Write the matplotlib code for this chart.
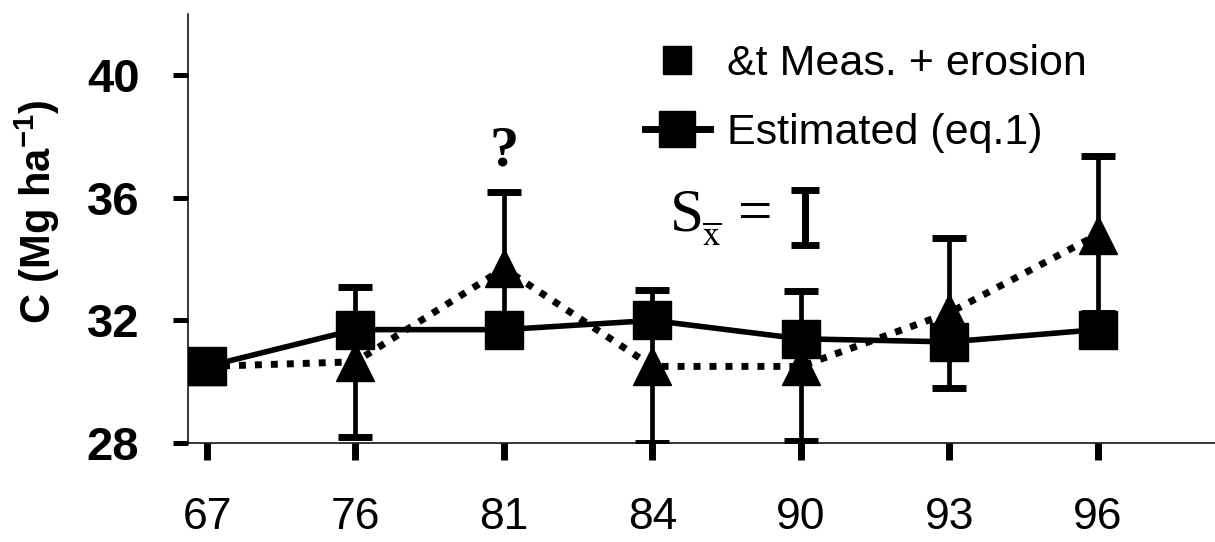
import numpy as np
import matplotlib
matplotlib.use('Agg')
import matplotlib.pyplot as plt
from matplotlib import font_manager
from matplotlib.lines import Line2D

# =========================================================
# DATA
# =========================================================

years = ['67', '76', '81', '84', '90', '93', '96']

# soil C stock (Mg ha-1)
c_estimated = [30.5, 31.7, 31.7, 32.0, 31.4, 31.3, 31.7]
c_measured = [30.5, 30.65, 33.7, 30.5, 30.5, 32.25, 34.8]
c_measured_se = [0.0, 2.45, 2.5, 2.5, 2.45, 2.45, 2.55]

# size of the reference S.E. bar next to the label
se_example = 0.9

y_ticks = [28, 32, 36, 40]

legend_labels = ['&t Meas. + erosion', 'Estimated (eq.1)']

# =========================================================
# FONTS
# =========================================================

installed = {f.name for f in font_manager.fontManager.ttflist}
NARROW = 'Liberation Sans Narrow' if 'Liberation Sans Narrow' in installed else 'Liberation Sans'
SANS = 'Liberation Sans'
SERIF = 'Liberation Serif'

plt.rcParams['mathtext.fontset'] = 'custom'
plt.rcParams['mathtext.rm'] = 'Liberation Sans'
plt.rcParams['mathtext.bf'] = 'Liberation Sans:bold'

# =========================================================
# PLOT
# =========================================================

fig = plt.figure(figsize=(12.15, 5.42), dpi=100)
ax = fig.add_axes([188 / 1215, 99 / 542, 1027 / 1215, 429 / 542])

x = np.arange(len(years))

# measured + erosion: dotted line, triangles, error bars
ax.plot(x, c_measured, color='black', lw=5, linestyle=(0, (1, 1.3)), zorder=2)
ax.errorbar(x, c_measured, yerr=c_measured_se, fmt='none', ecolor='black',
            elinewidth=3.4, capsize=12, capthick=5, zorder=3)
ax.plot(x, c_measured, linestyle='none', marker='^', ms=28, color='black', zorder=4)

# estimated (eq.1): solid line with squares
ax.plot(x, c_estimated, color='black', lw=4, marker='s', ms=27, zorder=5)

ax.set_xlim(-0.128, 6.79)
ax.set_ylim(28, 42)

ax.set_xticks(x, years)
ax.set_yticks(y_ticks)

ax.tick_params(axis='x', direction='out', length=12, width=5, pad=27, labelsize=32)
ax.tick_params(axis='y', direction='out', length=11, width=3.6, pad=24, labelsize=34)

for lbl in ax.get_xticklabels():
    lbl.set_fontfamily(NARROW)
for lbl in ax.get_yticklabels():
    lbl.set_fontfamily(SANS)
    lbl.set_fontweight('bold')

for side in ['top', 'right']:
    ax.spines[side].set_visible(False)
for side in ['left', 'bottom']:
    ax.spines[side].set_linewidth(1.1)

fig.text(0.0305, 0.609, r'C (Mg ha$^{\mathbf{-1}}$)', rotation=90,
         ha='center', va='center', fontsize=30, fontweight='bold', family=SANS)

# =========================================================
# LEGEND + NOTES
# =========================================================

handles = [
    Line2D([], [], linestyle='none', marker='s', ms=20, color='black'),
    Line2D([], [], color='black', lw=5, marker='s', ms=26),
]
ax.legend(handles, legend_labels, loc='upper left',
          bbox_to_anchor=(645 / 1215, 1 - 44 / 542), bbox_transform=fig.transFigure,
          prop={'family': NARROW, 'size': 31}, handlelength=1.5,
          handletextpad=0.4, labelspacing=0.68, borderpad=0,
          borderaxespad=0, frameon=False)

ax.text(2, 37.5, '?', family=SERIF, fontsize=42, fontweight='bold',
        ha='center', va='center')

# S with x-bar subscript, "=" and the reference bar
ax.text(3.118, 34.93, 'S', family=SERIF, fontsize=44, ha='left', va='baseline')
ax.text(3.333, 34.44, r'$\overline{\mathrm{x}}$', fontsize=25,
        math_fontfamily='stix', ha='left', va='baseline')
ax.text(3.576, 34.93, '=', family=SERIF, fontsize=44, ha='left', va='baseline')

ax.errorbar([4.03], [35.35], yerr=[se_example], fmt='none', ecolor='black',
            elinewidth=5, capsize=10, capthick=5)

fig.savefig('out.png', dpi=100)
